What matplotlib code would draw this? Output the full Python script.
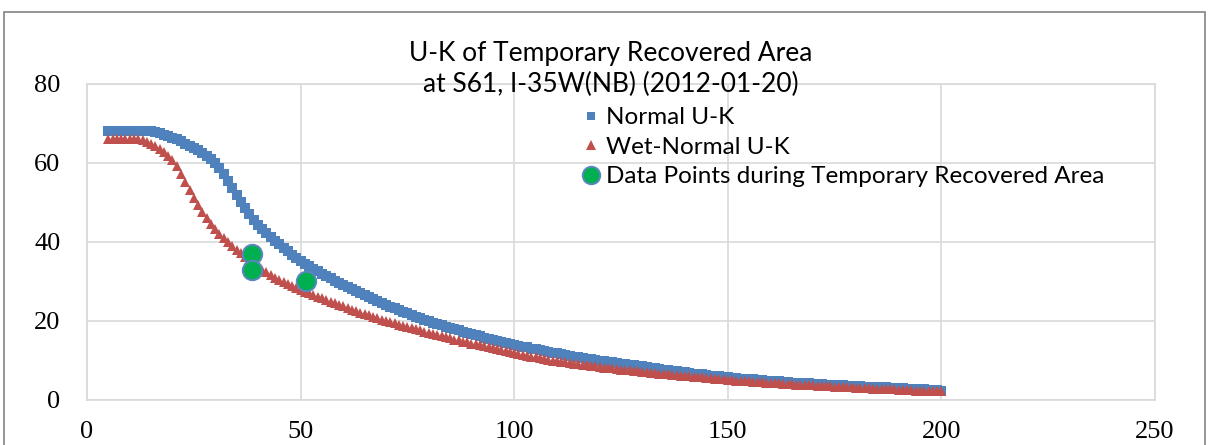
import numpy as np
import matplotlib
matplotlib.use('Agg')
import matplotlib.pyplot as plt
from matplotlib.patches import Rectangle

# density values (x axis), one marker per unit from 5 to 200
density = list(range(5, 201))

normal_uk = [
    68, 68, 68, 68, 68,
    68, 68, 68, 68, 68, 68, 67.8, 67.5, 67.2, 66.8,
    66.4, 66.0, 65.5, 64.9, 64.3, 63.8, 63.2, 62.5, 61.7, 60.9,
    60.0, 58.8, 57.3, 55.5, 53.6, 51.8, 50.1, 48.5, 47.0, 45.6,
    44.3, 43.2, 42.2, 41.2, 40.3, 39.4, 38.5, 37.6, 36.8, 36.0,
    35.2, 34.5, 33.8, 33.2, 32.6, 32.0, 31.4, 30.8, 30.2, 29.7,
    29.2, 28.6, 28.1, 27.5, 27.0, 26.5, 26.0, 25.5, 25.0, 24.5,
    24.0, 23.6, 23.2, 22.7, 22.3, 21.9, 21.5, 21.1, 20.7, 20.3,
    19.9, 19.6, 19.2, 18.9, 18.6, 18.2, 17.9, 17.6, 17.3, 17.0,
    16.7, 16.4, 16.1, 15.8, 15.5, 15.2, 15.0, 14.7, 14.4, 14.2,
    13.9, 13.7, 13.5, 13.3, 13.0, 12.8, 12.6, 12.4, 12.2, 12.0,
    11.8, 11.6, 11.4, 11.2, 11.0, 10.9, 10.7, 10.5, 10.3, 10.2,
    10.0, 9.8, 9.7, 9.5, 9.4, 9.2, 9.1, 8.9, 8.8, 8.6,
    8.5, 8.3, 8.2, 8.0, 7.9, 7.7, 7.6, 7.4, 7.3, 7.1,
    7.0, 6.9, 6.7, 6.6, 6.5, 6.4, 6.2, 6.1, 6.0, 5.8,
    5.7, 5.6, 5.5, 5.4, 5.3, 5.2, 5.2, 5.1, 5.0, 4.9,
    4.8, 4.7, 4.7, 4.6, 4.5, 4.4, 4.4, 4.3, 4.2, 4.2,
    4.1, 4.0, 4.0, 3.9, 3.9, 3.8, 3.7, 3.7, 3.6, 3.6,
    3.5, 3.5, 3.4, 3.4, 3.3, 3.3, 3.2, 3.2, 3.1, 3.1,
    3.0, 3.0, 2.9, 2.9, 2.8, 2.7, 2.7, 2.6, 2.6, 2.5,
    2.4,
]

wet_normal_uk = [
    66, 66, 66, 66, 66,
    66, 66, 66, 65.7, 65.3, 64.8, 64.2, 63.5, 62.7, 61.8,
    60.8, 59.2, 57.3, 55.3, 53.2, 51.2, 49.4, 47.7, 46.1, 44.6,
    43.2, 42.0, 40.9, 39.9, 39.0, 38.1, 37.2, 36.3, 35.4, 34.5,
    33.7, 33.0, 32.3, 31.6, 31.0, 30.4, 29.8, 29.3, 28.8, 28.3,
    27.8, 27.4, 27.0, 26.6, 26.2, 25.8, 25.3, 24.9, 24.5, 24.1,
    23.7, 23.3, 22.9, 22.5, 22.1, 21.8, 21.4, 21.0, 20.7, 20.3,
    20.0, 19.7, 19.4, 19.1, 18.8, 18.5, 18.2, 17.9, 17.6, 17.3,
    17.0, 16.7, 16.4, 16.2, 15.9, 15.6, 15.3, 15.1, 14.8, 14.6,
    14.3, 14.1, 13.8, 13.6, 13.3, 13.1, 12.8, 12.6, 12.3, 12.1,
    11.8, 11.6, 11.4, 11.2, 11.0, 10.8, 10.6, 10.4, 10.2, 10.0,
    9.8, 9.7, 9.5, 9.4, 9.2, 9.1, 8.9, 8.8, 8.6, 8.5,
    8.4, 8.2, 8.1, 8.0, 7.9, 7.7, 7.6, 7.5, 7.4, 7.3,
    7.2, 7.0, 6.9, 6.8, 6.7, 6.6, 6.5, 6.4, 6.3, 6.2,
    6.1, 6.0, 5.9, 5.8, 5.7, 5.6, 5.5, 5.4, 5.3, 5.2,
    5.1, 5.0, 4.9, 4.9, 4.8, 4.7, 4.6, 4.6, 4.5, 4.4,
    4.3, 4.3, 4.2, 4.1, 4.1, 4.0, 3.9, 3.9, 3.8, 3.8,
    3.7, 3.6, 3.6, 3.5, 3.5, 3.4, 3.4, 3.3, 3.2, 3.2,
    3.1, 3.1, 3.0, 3.0, 2.9, 2.9, 2.8, 2.8, 2.7, 2.7,
    2.6, 2.6, 2.5, 2.5, 2.4, 2.4, 2.4, 2.3, 2.3, 2.2,
    2.2,
]

# observed points during the temporary recovered area
data_k = [38.7, 38.7, 51.3]
data_u = [37.0, 32.9, 30.1]

W, H = 1209, 445
fig = plt.figure(figsize=(W / 100, H / 100), dpi=100)
ax = fig.add_axes([87 / W, 1 - 400 / H, (1155 - 87) / W, (400 - 84) / H])

ax.plot(density, normal_uk, linestyle='none', marker='s', markersize=7,
        color='#4F81BD', markeredgewidth=0, label='Normal U-K', zorder=3)
ax.plot(density, wet_normal_uk, linestyle='none', marker='^', markersize=7.5,
        color='#C0504D', markeredgewidth=0, label='Wet-Normal U-K', zorder=4)
ax.plot(data_k, data_u, linestyle='none', marker='o', markersize=14,
        markerfacecolor='#00B050', markeredgecolor='#5B86C0', markeredgewidth=1.4,
        label='Data Points during Temporary Recovered Area', zorder=5)

ax.set_xlim(0, 250)
ax.set_ylim(0, 80)
ax.set_xticks([0, 50, 100, 150, 200, 250])
ax.set_yticks([0, 20, 40, 60, 80])
ax.grid(True, color='#D9D9D9', linewidth=1.2)
ax.set_axisbelow(True)
for s in ax.spines.values():
    s.set_color('#D9D9D9')
    s.set_linewidth(1.2)
ax.tick_params(length=0, labelsize=19, pad=15)
ax.tick_params(axis='y', pad=19)
for lab in ax.get_xticklabels() + ax.get_yticklabels():
    lab.set_fontfamily('Liberation Serif')

fig.text(611 / W, 1 - 53 / H, 'U-K of Temporary Recovered Area',
         ha='center', va='center', fontsize=19, family='Lato')
fig.text(611 / W, 1 - 84 / H, 'at S61, I-35W(NB) (2012-01-20)',
         ha='center', va='center', fontsize=19, family='Lato')

leg = fig.legend(loc='upper left', bbox_to_anchor=(572 / W, 1 - 95 / H), frameon=False,
                 prop={'family': 'Lato', 'size': 17.5}, handlelength=0.6,
                 handletextpad=0.3, labelspacing=0.35, borderpad=0, markerscale=0.9)

# outer chart-area border
fig.patches.append(Rectangle((3.5 / W, -0.1), (1205 - 3.5) / W, 1.1 - 11.5 / H,
                             transform=fig.transFigure, fill=False,
                             edgecolor='#8C8C8C', linewidth=1.3))

fig.savefig('out.png', dpi=100)
